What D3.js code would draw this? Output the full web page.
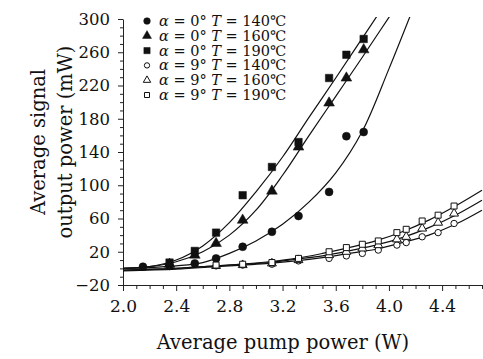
<!DOCTYPE html>
<html>
<head>
<meta charset="utf-8">
<script src="https://cdn.jsdelivr.net/npm/d3@7"></script>
<style>
  body { margin: 0; background: #fff; }
  svg text { font-family: "DejaVu Serif", "Liberation Serif", serif; fill: #111; }
</style>
</head>
<body>
<div id="chart"></div>
<script>
// measured points, alpha = 0 deg
const xA0 = [2.35, 2.54, 2.70, 2.90, 3.12, 3.32, 3.55, 3.68, 3.81];
const xA0c = [2.15, 2.35, 2.54, 2.70, 2.90, 3.12, 3.32, 3.55, 3.68, 3.81];
const a0T140 = [2, 3, 6, 12, 26, 44, 63, 92, 159, 164];
const a0T160 = [5, 16, 30, 58, 93, 146, 199, 229, 263];
const a0T190 = [7, 21, 43, 88, 122, 152, 229, 257, 276];

// measured points, alpha = 9 deg
const xA9 = [2.70, 2.90, 3.12, 3.32, 3.55, 3.68, 3.80, 3.92, 4.06, 4.13, 4.25, 4.37, 4.49];
const a9T140 = [3, 4, 5, 9, 12, 15, 18, 22, 28, 31, 38, 43, 54];
const a9T160 = [3, 4, 6, 10, 16, 20, 24, 28, 35, 38, 48, 55, 66];
const a9T190 = [4, 5, 7, 12, 20, 25, 29, 33, 43, 47, 57, 64, 75];

// fitted curves
const fitX0 = [2.0, 2.2, 2.4, 2.6, 2.8, 3.0, 3.2, 3.4, 3.6, 3.8, 4.0, 4.2];
const fit0T140 = [0, 1, 3, 7, 18, 33, 53, 80, 115, 165, 240, 320];
const fit0T160 = [0, 2, 8, 20, 40, 70, 112, 160, 207, 254, 302, 350];
const fit0T190 = [0, 2, 10, 27, 55, 92, 134, 182, 229, 277, 325, 373];
const fitX9 = [2.0, 2.4, 2.7, 2.9, 3.1, 3.3, 3.5, 3.7, 3.9, 4.1, 4.3, 4.5, 4.7];
const fit9T140 = [-3, -1, 2, 4, 6, 9, 13, 18, 23, 31, 40, 53, 70];
const fit9T160 = [-2, 0, 3, 5, 7, 11, 15, 21, 28, 37, 49, 64, 82];
const fit9T190 = [-2, 0, 3, 5, 8, 12, 18, 25, 33, 44, 58, 75, 94];

const legendLabels = [
  ["0", "140"], ["0", "160"], ["0", "190"],
  ["9", "140"], ["9", "160"], ["9", "190"]
];
const xTicks = [2.0, 2.4, 2.8, 3.2, 3.6, 4.0, 4.4];
const yTicks = [-20, 20, 60, 100, 140, 180, 220, 260, 300];

const width = 483, height = 359;
const margin = { top: 19, right: 1, bottom: 74, left: 123 };

const svg = d3.select("#chart").append("svg")
  .attr("width", width)
  .attr("height", height);

const x = d3.scaleLinear().domain([2.0, 4.7]).range([margin.left, width - margin.right]);
const y = d3.scaleLinear().domain([-20, 300]).range([height - margin.bottom, margin.top]);

svg.append("clipPath").attr("id", "plot")
  .append("rect")
  .attr("x", margin.left).attr("y", margin.top - 2)
  .attr("width", width - margin.left).attr("height", height - margin.bottom - margin.top + 2);

// axes
const xAxis = svg.append("g")
  .attr("transform", `translate(0,${y(-20)})`)
  .call(d3.axisBottom(x).tickValues(xTicks).tickFormat(d3.format(".1f")).tickSize(6).tickSizeOuter(0));
svg.append("g")
  .attr("transform", `translate(0,${y(-20)})`)
  .call(d3.axisBottom(x).tickValues(d3.range(2.1, 4.71, 0.1).filter(v => Math.abs(v * 10 % 4) > 0.01)).tickFormat("").tickSize(4).tickSizeOuter(0))
  .select(".domain").remove();

const yAxis = svg.append("g")
  .attr("transform", `translate(${margin.left},0)`)
  .call(d3.axisLeft(y).tickValues(yTicks).tickSize(5).tickSizeOuter(0));
svg.append("g")
  .attr("transform", `translate(${margin.left},0)`)
  .call(d3.axisLeft(y).tickValues(d3.range(-10, 300, 10).filter(v => (v + 20) % 40 !== 0)).tickFormat("").tickSize(3).tickSizeOuter(0))
  .select(".domain").remove();

svg.selectAll(".domain, .tick line").attr("stroke", "#222").attr("stroke-width", 1);
xAxis.selectAll("text").attr("font-size", 17).attr("dy", "1.05em");
yAxis.selectAll("text").attr("font-size", 16.5).attr("dx", "-0.3em");

// fitted curves
const line = d3.line().curve(d3.curveCatmullRom).x(d => x(d[0])).y(d => y(d[1]));
const fits = [
  [fitX0, fit0T140], [fitX0, fit0T160], [fitX0, fit0T190],
  [fitX9, fit9T140], [fitX9, fit9T160], [fitX9, fit9T190]
];
const curves = svg.append("g").attr("clip-path", "url(#plot)");
fits.forEach(([xs, ys]) => {
  curves.append("path")
    .datum(xs.map((v, i) => [v, ys[i]]))
    .attr("d", line)
    .attr("fill", "none")
    .attr("stroke", "#111")
    .attr("stroke-width", 1.2);
});

// markers
const symbols = [d3.symbolCircle, d3.symbolTriangle, d3.symbolSquare];
const sizes = [50, 50, 56];
const openSizes = [32, 34, 36];
const series = [
  { xs: xA0c, ys: a0T140, k: 0, open: false },
  { xs: xA0, ys: a0T160, k: 1, open: false },
  { xs: xA0, ys: a0T190, k: 2, open: false },
  { xs: xA9, ys: a9T140, k: 0, open: true },
  { xs: xA9, ys: a9T160, k: 1, open: true },
  { xs: xA9, ys: a9T190, k: 2, open: true }
];

function marker(sel, s, scale = 1) {
  sel.attr("d", d3.symbol().type(symbols[s.k]).size((s.open ? openSizes[s.k] : sizes[s.k]) * scale))
    .attr("fill", s.open ? "#fff" : "#111")
    .attr("stroke", "#111")
    .attr("stroke-width", s.open ? 1 : 0.5);
}

series.forEach(s => {
  svg.append("g").selectAll("path")
    .data(s.xs.map((v, i) => [v, s.ys[i]]))
    .join("path")
    .attr("transform", d => `translate(${x(d[0])},${y(d[1])})`)
    .call(marker, s);
});

// legend
const legend = svg.append("g").attr("transform", "translate(147,21)");
legendLabels.forEach(([a, t], i) => {
  const row = legend.append("g").attr("transform", `translate(0,${i * 14.8})`);
  row.append("path").call(marker, series[i], 0.7);
  const txt = row.append("text").attr("x", 12).attr("y", 5).attr("font-size", 14.5);
  txt.append("tspan").attr("font-style", "italic").text("α");
  txt.append("tspan").text(` = ${a}°  `);
  txt.append("tspan").attr("font-style", "italic").text("T");
  txt.append("tspan").text(` = ${t}℃`);
});

// axis titles
svg.append("text")
  .attr("x", 283).attr("y", 349)
  .attr("text-anchor", "middle")
  .attr("font-size", 19.5)
  .text("Average pump power (W)");

svg.append("text")
  .attr("transform", "translate(45,142) rotate(-90)")
  .attr("text-anchor", "middle")
  .attr("font-size", 19.5)
  .text("Average signal");
svg.append("text")
  .attr("transform", "translate(72,142) rotate(-90)")
  .attr("text-anchor", "middle")
  .attr("font-size", 19.5)
  .text("output power (mW)");
</script>
</body>
</html>
